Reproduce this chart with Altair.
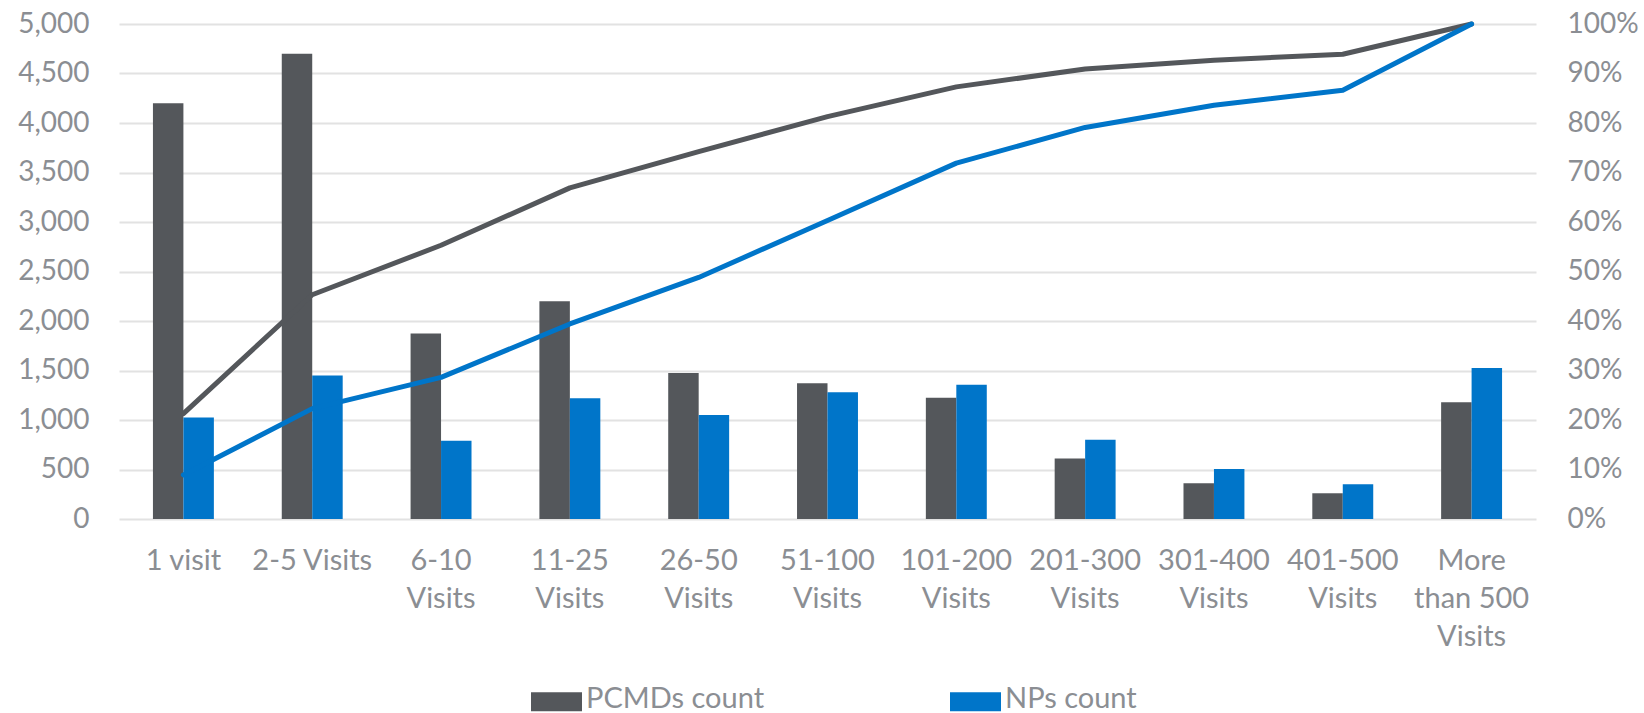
import altair as alt
import pandas as pd

# Visit-volume buckets (line breaks are the wrapped axis labels)
categories = [
    "1 visit", "2-5 Visits", "6-10\nVisits", "11-25\nVisits", "26-50\nVisits",
    "51-100\nVisits", "101-200\nVisits", "201-300\nVisits", "301-400\nVisits",
    "401-500\nVisits", "More\nthan 500\nVisits",
]
series_names = ["PCMDs count", "NPs count"]

# Provider counts per bucket
pcmds_count = [4200, 4700, 1875, 2200, 1475, 1370, 1225, 610, 360, 260, 1180]
nps_count = [1025, 1450, 790, 1220, 1050, 1280, 1355, 800, 505, 350, 1525]

# Cumulative share of providers (right axis)
pcmds_cum = [0.213, 0.453, 0.553, 0.669, 0.742, 0.813, 0.873, 0.909, 0.927, 0.939, 1.0]
nps_cum = [0.089, 0.223, 0.286, 0.394, 0.488, 0.603, 0.719, 0.791, 0.836, 0.866, 1.0]

GREY = "#54575B"
BLUE = "#0075C9"
LABEL = "#8B8E93"
GRID = "#E2E2E2"
FONT = "Lato"

bars_df = pd.DataFrame({
    "bucket": categories * 2,
    "series": [series_names[0]] * len(categories) + [series_names[1]] * len(categories),
    "count": pcmds_count + nps_count,
})
lines_df = pd.DataFrame({
    "bucket": categories,
    "pcmds_cum": pcmds_cum,
    "nps_cum": nps_cum,
})

x_enc = alt.X(
    "bucket:N",
    sort=categories,
    scale=alt.Scale(paddingInner=0.527, paddingOuter=0.2635),
    axis=alt.Axis(
        title=None,
        labelAngle=0,
        labelExpr="split(datum.label, '\\n')",
        labelBaseline="alphabetic",
        labelPadding=50,
        labelLineHeight=38,
        labelFontSize=29,
        labelColor=LABEL,
        labelFont=FONT,
        labelLimit=0,
        labelOverlap=False,
        tickSize=0,
        ticks=False,
        domain=False,
        grid=False,
    ),
)

bars = alt.Chart(bars_df).mark_bar().encode(
    x=x_enc,
    xOffset=alt.XOffset("series:N", sort=series_names,
                        scale=alt.Scale(paddingInner=0, paddingOuter=0)),
    y=alt.Y(
        "count:Q",
        scale=alt.Scale(domain=[0, 5000], nice=False),
        axis=alt.Axis(
            title=None,
            values=list(range(0, 5001, 500)),
            format=",.0f",
            labelFontSize=28,
            labelColor=LABEL,
            labelFont=FONT,
            labelPadding=30,
            ticks=False,
            domain=False,
            grid=True,
            gridColor=GRID,
            gridWidth=2,
        ),
    ),
    color=alt.Color(
        "series:N",
        sort=series_names,
        scale=alt.Scale(domain=series_names, range=[GREY, BLUE]),
        legend=alt.Legend(
            title=None,
            orient="none",
            direction="horizontal",
            legendX=412,
            legendY=649,
            # wide, short key swatch sitting slightly below the label's middle
            symbolType="M-1,-0.255H1V0.49H-1Z",
            symbolSize=2601,
            symbolStrokeWidth=0,
            labelFontSize=29,
            labelColor=LABEL,
            labelFont=FONT,
            labelOffset=4,
            columnPadding=185,
            gridAlign="all",
            labelLimit=0,
        ),
    ),
)

pct_axis = alt.Axis(
    title=None,
    orient="right",
    values=[i / 10 for i in range(11)],
    format=".0%",
    labelFontSize=28,
    labelColor=LABEL,
    labelFont=FONT,
    labelPadding=31,
    labelAlign="left",
    ticks=False,
    domain=False,
    grid=False,
)
pct_scale = alt.Scale(domain=[0, 1], nice=False)

line_pcmds = alt.Chart(lines_df).mark_line(
    color=GREY, strokeWidth=5, strokeCap="round", strokeJoin="round"
).encode(
    x=alt.X("bucket:N", sort=categories),
    y=alt.Y("pcmds_cum:Q", scale=pct_scale, axis=pct_axis),
)
line_nps = alt.Chart(lines_df).mark_line(
    color=BLUE, strokeWidth=5, strokeCap="round", strokeJoin="round"
).encode(
    x=alt.X("bucket:N", sort=categories),
    y=alt.Y("nps_cum:Q", scale=pct_scale),
)

lines = alt.layer(line_pcmds, line_nps)

chart = (
    alt.layer(bars, lines)
    .resolve_scale(y="independent")
    .properties(
        width=1417,
        height=495,
        padding={"left": 119, "top": 24, "right": 108, "bottom": 194},
        autosize=alt.AutoSizeParams(type="none"),
        background="white",
    )
    .configure_view(stroke=None)
)

chart.save("out.html", embed_options={"renderer": "svg", "actions": False})
